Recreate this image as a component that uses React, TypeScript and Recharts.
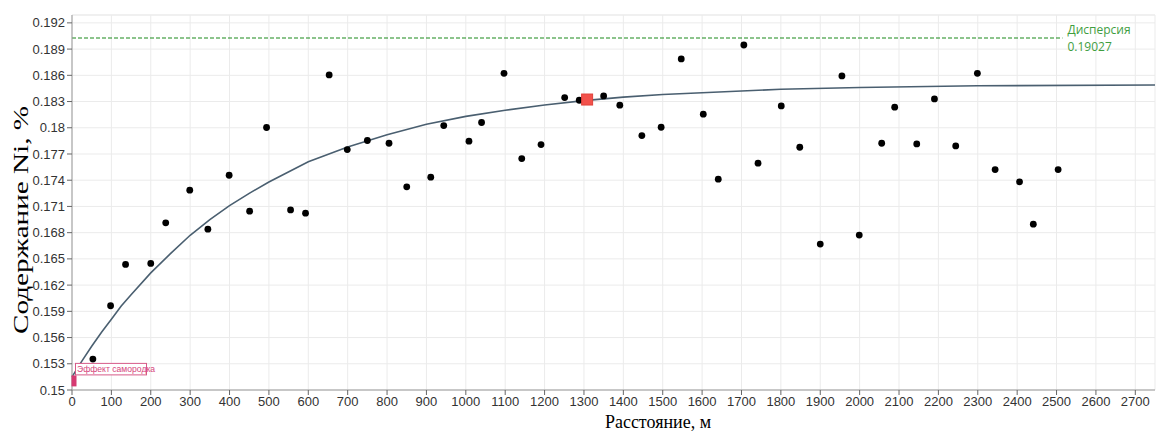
import {
  CartesianGrid,
  ComposedChart,
  Line,
  ReferenceLine,
  Scatter,
  XAxis,
  YAxis,
} from "recharts";

// experimental variogram points (distance, m / Ni content, %)
const distances = [
  53, 98, 136, 200, 238, 299, 345, 399, 451, 494, 555, 593, 653, 699, 750, 805, 850, 911, 944, 1008,
  1040, 1097, 1142, 1191, 1251, 1288, 1350, 1391, 1447, 1496, 1547, 1603, 1641, 1706, 1742, 1801,
  1848, 1900, 1955, 1999, 2056, 2089, 2145, 2190, 2244, 2299, 2344, 2406, 2441, 2504,
];
const nickel = [
  0.15354, 0.15964, 0.16437, 0.16448, 0.16912, 0.17286, 0.1684, 0.17457, 0.17046, 0.18003, 0.1706,
  0.17023, 0.18604, 0.17751, 0.17854, 0.17823, 0.17324, 0.17435, 0.18025, 0.17846, 0.1806, 0.18623,
  0.17648, 0.17808, 0.18345, 0.18315, 0.18364, 0.18258, 0.17911, 0.18006, 0.18787, 0.18155, 0.17412,
  0.18947, 0.17595, 0.1825, 0.17777, 0.16669, 0.18593, 0.16772, 0.17823, 0.18235, 0.17815, 0.1833,
  0.17792, 0.18623, 0.17522, 0.17381, 0.16897, 0.17522,
];

// fitted model line
const modelDistances = [
  0, 25, 50, 75, 100, 125, 150, 200, 250, 300, 350, 400, 450, 500, 600, 700, 800, 900, 1000, 1100,
  1200, 1300, 1400, 1500, 1600, 1800, 2000, 2300, 2750,
];
const modelValues = [
  0.1515, 0.1533, 0.155, 0.1566, 0.1581, 0.1596, 0.1609, 0.1634, 0.1656, 0.1677, 0.1695, 0.1711,
  0.1725, 0.1738, 0.1761, 0.1778, 0.1792, 0.1804, 0.1813, 0.182, 0.1826, 0.1831, 0.1835, 0.1838,
  0.184, 0.1844, 0.1846, 0.1848, 0.1849,
];

const sill = 0.19027;
const sillEnd = 2515;
const nugget = 0.1515;
const rangeDistance = 1308;
const rangeValue = 0.18323;

const xTicks = [
  0, 100, 200, 300, 400, 500, 600, 700, 800, 900, 1000, 1100, 1200, 1300, 1400, 1500, 1600, 1700,
  1800, 1900, 2000, 2100, 2200, 2300, 2400, 2500, 2600, 2700,
];
const yTicks = [
  0.15, 0.153, 0.156, 0.159, 0.162, 0.165, 0.168, 0.171, 0.174, 0.177, 0.18, 0.183, 0.186, 0.189,
  0.192,
];
const xDomain: [number, number] = [0, 2750];
const yDomain: [number, number] = [0.15, 0.1929];

const points = distances.map((x, i) => ({ x, y: nickel[i] }));
const model = modelDistances.map((x, i) => ({ x, y: modelValues[i] }));

// 5 minor divisions between major ticks
const subdivide = (ticks: number[], max: number) => {
  const step = (ticks[1] - ticks[0]) / 5;
  const out: number[] = [];
  for (let v = ticks[0]; v <= max + 1e-9; v += step) out.push(Number(v.toFixed(5)));
  return out;
};
const minorX = subdivide(xTicks, xDomain[1]);
const minorY = subdivide(yTicks, yDomain[1]);

const tickStyle = { fill: "#333", fontSize: 13, fontFamily: "'Liberation Sans', Arial, sans-serif" };

const Dot = (props: any) => <circle cx={props.cx} cy={props.cy} r={3.4} fill="#000" />;

const RangeMark = (props: any) => (
  <rect x={props.cx - 5.5} y={props.cy - 5.5} width={11} height={11} fill="#f2514b" stroke="#e0403a" />
);

const NuggetMark = (props: any) => {
  const { cx, cy } = props;
  return (
    <g>
      <rect x={cx - 0.5} y={cy - 1.5} width={5} height={11} fill="#d63a72" />
      <rect x={cx + 3.5} y={cy - 13.5} width={71} height={11.5} fill="#fff" stroke="#d65a88" strokeWidth={1} />
      <text
        x={cx + 5}
        y={cy - 4.6}
        fontSize={8.6}
        fill="#d6467c"
        fontFamily="'Liberation Sans', Arial, sans-serif"
      >
        Эффект самородка
      </text>
    </g>
  );
};

const SillLabel = (props: any) => {
  const vb = props.viewBox || {};
  const x = (vb.x ?? 0) + (vb.width ?? 0) + 5;
  const y = vb.y ?? 38;
  return (
    <g fontFamily="'Open Sans', 'Noto Sans', sans-serif" fontSize={12} fill="#3f9e3f">
      <text x={x} y={y - 4}>Дисперсия</text>
      <text x={x} y={y + 13}>0.19027</text>
    </g>
  );
};

export default function App() {
  return (
    <div style={{ position: "absolute", left: 0, top: 0, background: "#fff" }}>
      <ComposedChart width={1158} height={431} margin={{ top: 15, right: 3, bottom: 0, left: 0 }}>
        <CartesianGrid stroke="#ebebeb" />
        <XAxis
          xAxisId="minor"
          type="number"
          domain={xDomain}
          allowDataOverflow
          ticks={minorX}
          interval={0}
          tick={false}
          tickSize={3}
          axisLine={false}
          tickLine={{ stroke: "#888" }}
          height={0}
        />
        <YAxis
          yAxisId="minor"
          type="number"
          domain={yDomain}
          allowDataOverflow
          ticks={minorY}
          interval={0}
          tick={false}
          tickSize={3}
          axisLine={false}
          tickLine={{ stroke: "#888" }}
          width={0}
        />
        <XAxis
          dataKey="x"
          type="number"
          domain={xDomain}
          ticks={xTicks}
          interval={0}
          tick={tickStyle}
          tickSize={5}
          tickLine={{ stroke: "#666" }}
          axisLine={{ stroke: "#999" }}
          height={41}
          label={{
            content: () => (
              <text x={658} y={428} textAnchor="middle" fontSize={18} fontFamily="'Liberation Serif', 'Times New Roman', serif" fill="#000">
                Расстояние, м
              </text>
            ),
          }}
        />
        <YAxis
          dataKey="y"
          type="number"
          domain={yDomain}
          ticks={yTicks}
          interval={0}
          tick={tickStyle}
          tickSize={5}
          tickLine={{ stroke: "#666" }}
          axisLine={{ stroke: "#999" }}
          width={72}
          label={{
            content: () => (
              <text
                x={21}
                y={220}
                transform="rotate(-90, 21, 220)"
                textAnchor="middle"
                dominantBaseline="central"
                fontSize={21}
                textLength={228}
                lengthAdjust="spacingAndGlyphs"
                fontFamily="'Liberation Serif', 'Times New Roman', serif"
                fill="#000"
              >
                Содержание Ni, %
              </text>
            ),
          }}
        />
        <ReferenceLine y={yDomain[1]} stroke="#ebebeb" />
        <ReferenceLine
          segment={[
            { x: 0, y: sill },
            { x: sillEnd, y: sill },
          ]}
          stroke="#1b8a1b"
          strokeWidth={1.2}
          strokeDasharray="4 2"
          label={{ content: SillLabel }}
        />
        <Line
          data={model}
          dataKey="y"
          type="linear"
          stroke="#4a5f70"
          strokeWidth={1.6}
          dot={false}
          isAnimationActive={false}
        />
        <Scatter data={points} shape={Dot} isAnimationActive={false} />
        <Scatter data={[{ x: rangeDistance, y: rangeValue }]} shape={RangeMark} isAnimationActive={false} />
        <Scatter data={[{ x: 0, y: nugget }]} shape={NuggetMark} isAnimationActive={false} />
      </ComposedChart>
    </div>
  );
}
